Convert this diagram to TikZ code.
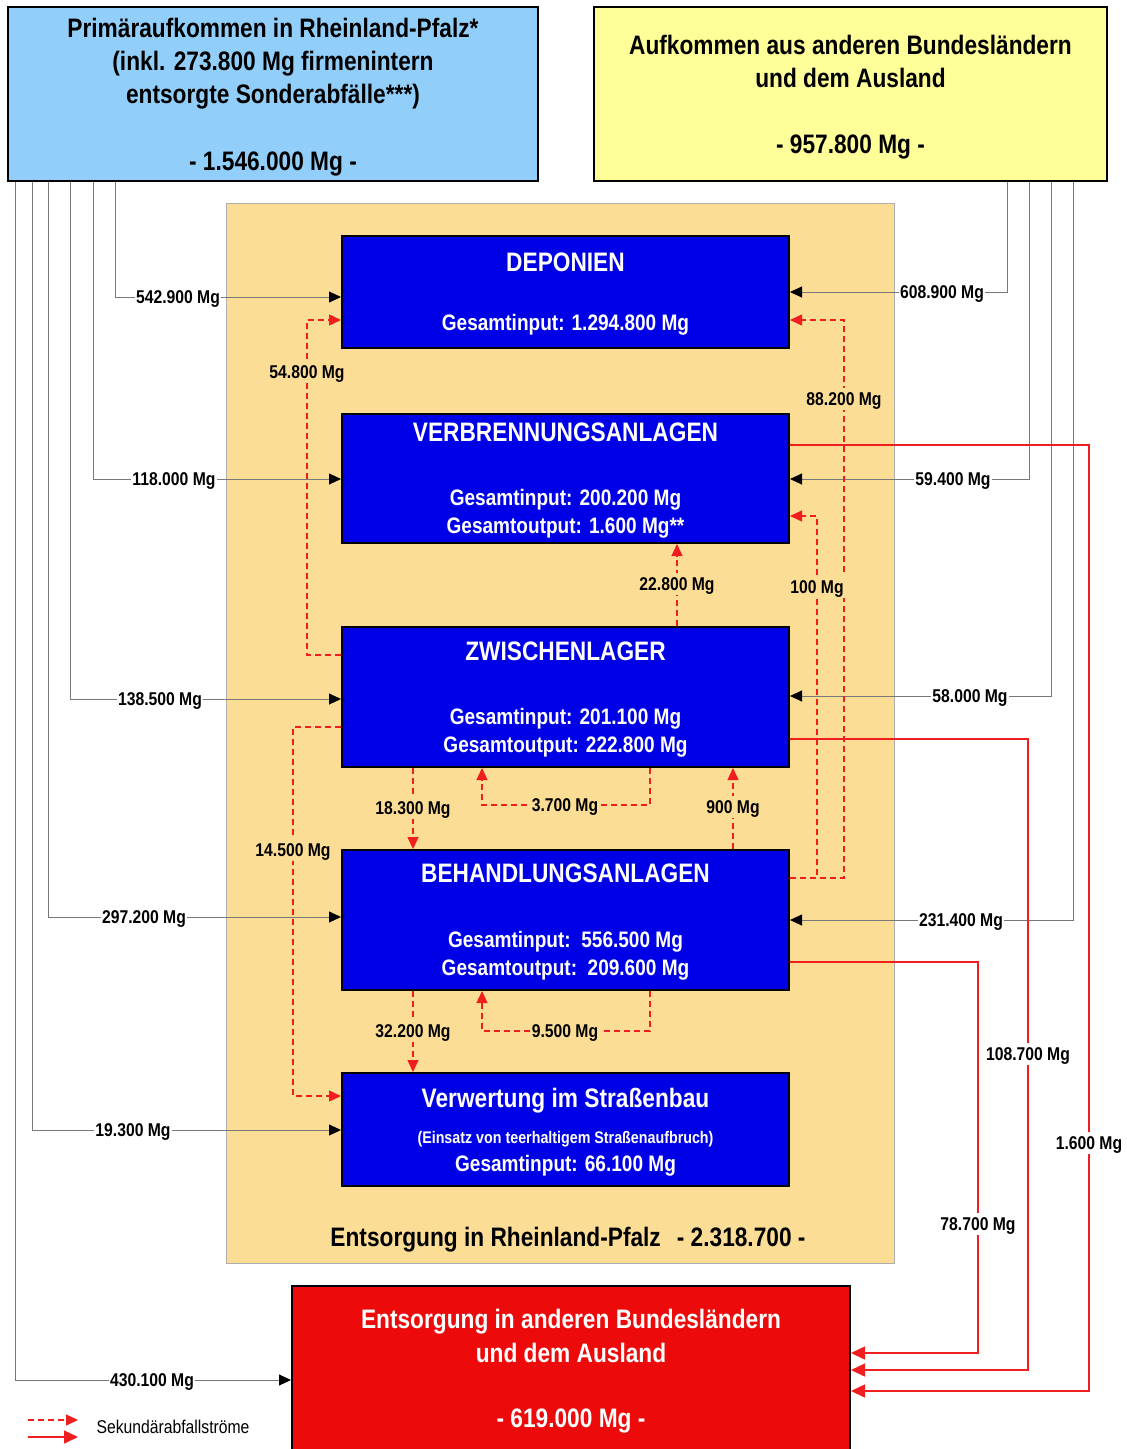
\documentclass[tikz,border=0pt]{standalone}
\usepackage{fontspec}
\setmainfont{Liberation Sans}[FakeStretch=0.85]
\usetikzlibrary{arrows.meta}
\usepackage{xcolor}
\definecolor{prim_blau}{RGB}{145,207,250}
\definecolor{auf_gelb}{RGB}{255,255,153}
\definecolor{rlp_orange}{RGB}{252,221,150}
\definecolor{anlage_blau}{RGB}{0,0,230}
\definecolor{ent_rot}{RGB}{236,10,10}
\definecolor{fluss_rot}{RGB}{240,30,30}
\definecolor{linie_grau}{RGB}{120,120,120}

\newcommand{\titelfont}{\fontsize{26.7}{33}\selectfont}
\newcommand{\wertfont}{\fontsize{22.4}{28}\selectfont}
\newcommand{\labelfont}{\fontsize{18.5}{20}\selectfont}

\begin{document}
\begin{tikzpicture}[x=1pt, y=-1pt, font=\bfseries,
    kasten/.style={draw=black, line width=2pt, inner sep=0pt, align=center, text depth=0pt},
    anlage/.style={kasten, fill=anlage_blau, text=white, minimum width=447pt, font=\bfseries\wertfont},
    zufluss/.style={draw=linie_grau, line width=0.9pt, -{Triangle[length=12pt,width=11pt,black]}},
    sekundaer/.style={draw=fluss_rot, line width=1.4pt, dash pattern=on 6pt off 4pt, -{Triangle[length=12pt,width=11pt]}},
    abfluss/.style={draw=fluss_rot, line width=1.6pt, -{Triangle[length=14pt,width=13pt]}},
    wert/.style={font=\bfseries\labelfont, fill=white, inner xsep=1.5pt, inner ysep=4.5pt, text depth=0pt},
    wertinnen/.style={wert, fill=rlp_orange}]

      \useasboundingbox (0,0) rectangle (1127,1449);

      % 1. Aufkommen (Quellen oben)
      \node[kasten, fill=prim_blau, minimum width=530pt, minimum height=174pt, font=\bfseries\titelfont] (prim) at (273,94) {
        Primäraufkommen in Rheinland-Pfalz*\\
        (inkl. 273.800 Mg firmenintern\\
        entsorgte Sonderabfälle***)\\[34pt]
        - 1.546.000 Mg -
      };
      \node[kasten, fill=auf_gelb, minimum width=513pt, minimum height=174pt, font=\bfseries\titelfont] (auf) at (850.5,94) {
        Aufkommen aus anderen Bundesländern\\
        und dem Ausland\\[33pt]
        - 957.800 Mg -
      };

      % 2. Entsorgung in Rheinland-Pfalz (Hintergrund und Anlagen)
      \node[draw=linie_grau!60, line width=0.8pt, fill=rlp_orange, minimum width=668pt, minimum height=1060pt, inner sep=0pt] (rlp) at (560,733) {};
      \node[font=\bfseries\fontsize{26.7}{30}\selectfont, text depth=0pt] (rlptitel) at (568,1237) {Entsorgung in Rheinland-Pfalz\hspace{16pt}- 2.318.700 -};

      \node[anlage, minimum height=112pt] (dep) at (565.5,292) {
        {\titelfont DEPONIEN}\\[31pt]
        Gesamtinput: 1.294.800 Mg
      };
      \node[anlage, minimum height=129pt] (ver) at (565.5,478.5) {
        {\titelfont VERBRENNUNGSANLAGEN}\\[36pt]
        Gesamtinput: 200.200 Mg\\
        Gesamtoutput: 1.600 Mg**
      };
      \node[anlage, minimum height=140pt] (zw) at (565.5,697) {
        {\titelfont ZWISCHENLAGER}\\[36pt]
        Gesamtinput: 201.100 Mg\\
        Gesamtoutput: 222.800 Mg
      };
      \node[anlage, minimum height=140pt] (beh) at (565.5,920) {
        {\titelfont BEHANDLUNGSANLAGEN}\\[37pt]
        Gesamtinput:\ \ 556.500 Mg\\
        Gesamtoutput:\ \ 209.600 Mg
      };
      \node[anlage, minimum height=113pt] (verw) at (565.5,1129.5) {
        {\titelfont Verwertung im Straßenbau}\\[8pt]
        {\fontsize{16.8}{18}\selectfont (Einsatz von teerhaltigem Straßenaufbruch)}\\
        Gesamtinput: 66.100 Mg
      };

      % 3. Entsorgung außerhalb
      \node[kasten, fill=ent_rot, text=white, minimum width=558pt, minimum height=165pt, font=\bfseries\titelfont] (ent) at (571,1368.5) {
        Entsorgung in anderen Bundesländern\\[1pt]
        und dem Ausland\\[32pt]
        - 619.000 Mg -
      };

      % 4. Zuflüsse aus Rheinland-Pfalz (links)
      \coordinate (p1) at (115,297);
      \coordinate (p2) at (93,479);
      \coordinate (p3) at (70,699);
      \coordinate (p4) at (48,917);
      \coordinate (p5) at (32,1130);
      \coordinate (p6) at (15,1380);
      \draw[zufluss] (prim.south -| p1) |- (dep.west |- p1);
      \draw[zufluss] (prim.south -| p2) |- (ver.west |- p2);
      \draw[zufluss] (prim.south -| p3) |- (zw.west |- p3);
      \draw[zufluss] (prim.south -| p4) |- (beh.west |- p4);
      \draw[zufluss] (prim.south -| p5) |- (verw.west |- p5);
      \draw[zufluss] (prim.south -| p6) |- (ent.west |- p6);

      % 5. Zuflüsse von außerhalb (rechts)
      \coordinate (a1) at (1007,292);
      \coordinate (a2) at (1029,479);
      \coordinate (a3) at (1051,696);
      \coordinate (a4) at (1073,920);
      \draw[zufluss] (auf.south -| a1) |- (dep.east |- a1);
      \draw[zufluss] (auf.south -| a2) |- (ver.east |- a2);
      \draw[zufluss] (auf.south -| a3) |- (zw.east |- a3);
      \draw[zufluss] (auf.south -| a4) |- (beh.east |- a4);

      % 6. Sekundärabfallströme (gestrichelt)
      \coordinate (s1) at (307,655);  \coordinate (s1o) at (307,320);
      \coordinate (s2) at (844,878);  \coordinate (s2o) at (844,320);
      \coordinate (s3) at (817,878);  \coordinate (s3o) at (817,516);
      \coordinate (s4) at (677,584);
      \coordinate (s5) at (413,808);
      \coordinate (s6) at (650,805);  \coordinate (s6o) at (482,805);
      \coordinate (s7) at (733,807);
      \coordinate (s8) at (293,727);  \coordinate (s8o) at (293,1096);
      \coordinate (s9) at (413,1031);
      \coordinate (s10) at (650,1031); \coordinate (s10o) at (482,1031);
      \draw[sekundaer] (zw.west |- s1) -- (s1) -- (s1o) -- (dep.west |- s1o);
      \draw[sekundaer] (beh.east |- s2) -- (s2) -- (s2o) -- (dep.east |- s2o);
      \draw[sekundaer] (beh.east |- s3) -- (s3) -- (s3o) -- (ver.east |- s3o);
      \draw[sekundaer] (zw.north -| s4) -- (ver.south -| s4);
      \draw[sekundaer] (zw.south -| s5) -- (beh.north -| s5);
      \draw[sekundaer] (zw.south -| s6) -- (s6) -- (s6o) -- (zw.south -| s6o);
      \draw[sekundaer] (beh.north -| s7) -- (zw.south -| s7);
      \draw[sekundaer] (zw.west |- s8) -- (s8) -- (s8o) -- (verw.west |- s8o);
      \draw[sekundaer] (beh.south -| s9) -- (verw.north -| s9);
      \draw[sekundaer] (beh.south -| s10) -- (s10) -- (s10o) -- (beh.south -| s10o);

      % 7. Abflüsse nach außerhalb (rot)
      \coordinate (o1) at (1089,445);  \coordinate (o1u) at (1089,1391);
      \coordinate (o2) at (1028,739);  \coordinate (o2u) at (1028,1370);
      \coordinate (o3) at (978,962);   \coordinate (o3u) at (978,1353);
      \draw[abfluss] (ver.east |- o1) -- (o1) -- (o1u) -- (ent.east |- o1u);
      \draw[abfluss] (zw.east |- o2) -- (o2) -- (o2u) -- (ent.east |- o2u);
      \draw[abfluss] (beh.east |- o3) -- (o3) -- (o3u) -- (ent.east |- o3u);

      % 8. Mengen an den Linien
      \node[wert] (w1) at (178,297) {542.900 Mg};
      \node[wert] (w2) at (174,479) {118.000 Mg};
      \node[wert] (w3) at (160,699) {138.500 Mg};
      \node[wert] (w4) at (144,917) {297.200 Mg};
      \node[wert] (w5) at (133,1130) {19.300 Mg};
      \node[wert] (w6) at (152,1380) {430.100 Mg};
      \node[wert] (w7) at (942,292) {608.900 Mg};
      \node[wert] (w8) at (953,479) {59.400 Mg};
      \node[wert] (w9) at (970,696) {58.000 Mg};
      \node[wert] (w10) at (961,920) {231.400 Mg};
      \node[wertinnen] (w11) at (307,372) {54.800 Mg};
      \node[wertinnen] (w12) at (844,399) {88.200 Mg};
      \node[wertinnen] (w13) at (817,587) {100 Mg};
      \node[wertinnen] (w14) at (677,584) {22.800 Mg};
      \node[wertinnen] (w15) at (413,808) {18.300 Mg};
      \node[wertinnen] (w16) at (565,805) {3.700 Mg};
      \node[wertinnen] (w17) at (733,807) {900 Mg};
      \node[wertinnen] (w18) at (293,850) {14.500 Mg};
      \node[wertinnen] (w19) at (413,1031) {32.200 Mg};
      \node[wertinnen] (w20) at (565,1031) {9.500 Mg};
      \node[wert] (w21) at (1089,1143) {1.600 Mg};
      \node[wert] (w22) at (1028,1054) {108.700 Mg};
      \node[wert] (w23) at (978,1224) {78.700 Mg};

      % 9. Legende
      \coordinate (leg1) at (28,1420);
      \coordinate (leg2) at (28,1437);
      \draw[sekundaer] (leg1) -- ++(50,0);
      \draw[abfluss] (leg2) -- ++(50,0);
      \node[anchor=west, font=\mdseries\labelfont] (legtext) at (93,1427) {Sekundärabfallströme};

\end{tikzpicture}
\end{document}
